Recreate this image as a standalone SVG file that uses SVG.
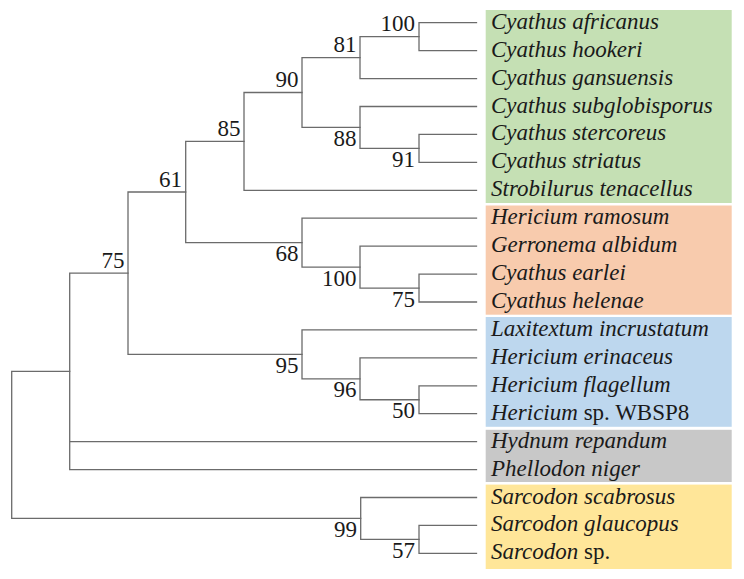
<svg xmlns="http://www.w3.org/2000/svg" width="744" height="579" viewBox="0 0 744 579">
<style>
.br{fill:none;stroke:#6b6b6b;stroke-width:1.3;stroke-linecap:square}
.lf{font-family:"Liberation Serif","Times New Roman",serif;font-size:23px;font-style:italic;fill:#1a1a1a}
.up{font-style:normal}
.bs{font-family:"Liberation Serif","Times New Roman",serif;font-size:23px;fill:#1a1a1a;text-anchor:end}
</style>
<rect width="744" height="579" fill="#ffffff"/>
<g id="clades">
<rect id="clade-green" x="485.7" y="10" width="246" height="193" fill="#c5e0b4"/>
<rect id="clade-orange" x="485.7" y="205.5" width="246" height="109.2" fill="#f8cbad"/>
<rect id="clade-blue" x="485.7" y="317" width="246" height="109.8" fill="#bdd7ee"/>
<rect id="clade-grey" x="485.7" y="429.8" width="246" height="52.2" fill="#c8c8c8"/>
<rect id="clade-yellow" x="485.7" y="484.6" width="246" height="84.4" fill="#ffe699"/>
</g>
<g id="connectors" class="br">
<!-- root -->
<path d="M11.7 371.4V518.45M11.7 371.4H69.7M11.7 518.45H360.7"/>
<!-- node A -->
<path d="M69.7 273.2V469.6M69.7 273.2H128M69.7 441.7H476.5M69.7 469.6H476.5"/>
<!-- 75a -->
<path d="M128 192V354.35M128 192H185.7M128 354.35H302"/>
<!-- 61 -->
<path d="M185.7 141.4V242.65M185.7 141.4H244M185.7 242.65H302"/>
<!-- 85 -->
<path d="M244 92.5V190.3M244 92.5H302M244 190.3H476.5"/>
<!-- 90 -->
<path d="M302 57.6V127.45M302 57.6H360M302 127.45H360"/>
<!-- 81 -->
<path d="M360 36.65V78.6M360 36.65H419M360 78.6H476.5"/>
<!-- 100a -->
<path d="M419 22.7V50.6M419 22.7H476.5M419 50.6H476.5"/>
<!-- 88 -->
<path d="M360 106.5V148.4M360 106.5H476.5M360 148.4H419"/>
<!-- 91 -->
<path d="M419 134.4V162.4M419 134.4H476.5M419 162.4H476.5"/>
<!-- 68 -->
<path d="M302 218.2V267.1M302 218.2H476.5M302 267.1H360"/>
<!-- 100b -->
<path d="M360 246.1V288.05M360 246.1H476.5M360 288.05H419"/>
<!-- 75b -->
<path d="M419 274.1V302M419 274.1H476.5M419 302H476.5"/>
<!-- 95 -->
<path d="M302 329.9V378.8M302 329.9H476.5M302 378.8H360"/>
<!-- 96 -->
<path d="M360 357.9V399.75M360 357.9H476.5M360 399.75H419"/>
<!-- 50 -->
<path d="M419 385.8V413.7M419 385.8H476.5M419 413.7H476.5"/>
<!-- 99 -->
<path d="M360.7 497.5V539.4M360.7 497.5H476.5M360.7 539.4H419"/>
<!-- 57 -->
<path d="M419 525.4V553.4M419 525.4H476.5M419 553.4H476.5"/>
</g>
<g id="support-values" class="bs">
<text id="bs-100a" x="415" y="31.2">100</text>
<text id="bs-81" x="356.5" y="52.1">81</text>
<text id="bs-90" x="298.5" y="87">90</text>
<text id="bs-85" x="240.5" y="135.9">85</text>
<text id="bs-61" x="182" y="186.5">61</text>
<text id="bs-75a" x="124.5" y="267.7">75</text>
<text id="bs-88" x="356.5" y="146">88</text>
<text id="bs-91" x="415" y="167">91</text>
<text id="bs-68" x="298.5" y="261.2">68</text>
<text id="bs-100b" x="356.5" y="285.6">100</text>
<text id="bs-75b" x="415" y="306.5">75</text>
<text id="bs-95" x="298.5" y="372.9">95</text>
<text id="bs-96" x="356.5" y="397.3">96</text>
<text id="bs-50" x="415" y="418.2">50</text>
<text id="bs-99" x="357" y="537">99</text>
<text id="bs-57" x="415" y="558">57</text>
</g>
<g id="taxa" class="lf">
<text id="t0" x="491" y="28.7">Cyathus africanus</text>
<text id="t1" x="491" y="56.6">Cyathus hookeri</text>
<text id="t2" x="491" y="84.6">Cyathus gansuensis</text>
<text id="t3" x="491" y="112.5">Cyathus subglobisporus</text>
<text id="t4" x="491" y="140.4">Cyathus stercoreus</text>
<text id="t5" x="491" y="168.4">Cyathus striatus</text>
<text id="t6" x="491" y="196.3">Strobilurus tenacellus</text>
<text id="t7" x="491" y="224.2">Hericium ramosum</text>
<text id="t8" x="491" y="252.1">Gerronema albidum</text>
<text id="t9" x="491" y="280.1">Cyathus earlei</text>
<text id="t10" x="491" y="308">Cyathus helenae</text>
<text id="t11" x="491" y="335.9">Laxitextum incrustatum</text>
<text id="t12" x="491" y="363.9">Hericium erinaceus</text>
<text id="t13" x="491" y="391.8">Hericium flagellum</text>
<text id="t14" x="491" y="419.7">Hericium<tspan class="up"> sp. WBSP8</tspan></text>
<text id="t15" x="491" y="447.7">Hydnum repandum</text>
<text id="t16" x="491" y="475.6">Phellodon niger</text>
<text id="t17" x="491" y="503.5">Sarcodon scabrosus</text>
<text id="t18" x="491" y="531.4">Sarcodon glaucopus</text>
<text id="t19" x="491" y="559.4">Sarcodon<tspan class="up"> sp.</tspan></text>
</g>
</svg>
